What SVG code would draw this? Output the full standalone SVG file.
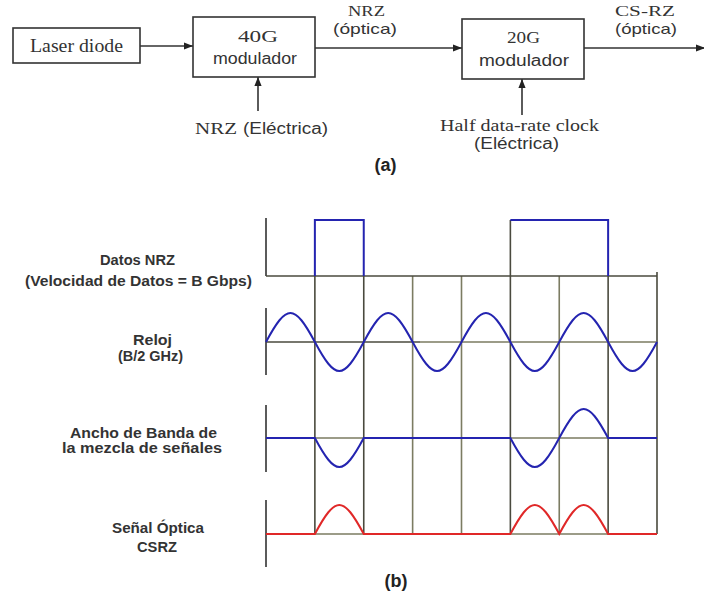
<svg xmlns="http://www.w3.org/2000/svg" width="704" height="594" viewBox="0 0 704 594">
<style>
.box{fill:#fff;stroke:#333;stroke-width:1.6}
.serif{font-family:"Liberation Serif","Times New Roman",serif;fill:#333}
.sans{font-family:"Liberation Sans",Arial,sans-serif;fill:#333}
.lbl{font-family:"Liberation Sans",Arial,sans-serif;font-weight:bold;fill:#333;font-size:14px;text-anchor:middle}
.tag{font-family:"Liberation Sans",Arial,sans-serif;font-weight:bold;fill:#222;font-size:18px;text-anchor:middle}
.conn{stroke:#333;stroke-width:1.6;fill:none}
.axis{stroke:#333;stroke-width:1.6;fill:none}
.gd{stroke:#4a4a3e;stroke-width:1.6;fill:none}
.gl{stroke:#7c7c62;stroke-width:1.6;fill:none}
.blue{stroke:#2424b0;stroke-width:2;fill:none}
.red{stroke:#e02828;stroke-width:2;fill:none}
</style>
<defs>
<marker id="ah" viewBox="0 0 10 10" refX="10" refY="5" markerWidth="9" markerHeight="9" markerUnits="userSpaceOnUse" orient="auto">
<path d="M0,1 L10,5 L0,9 z" fill="#222"/>
</marker>
</defs>
<rect width="704" height="594" fill="#fff"/>

<g id="connectors">
<line class="conn" x1="140" y1="46" x2="193" y2="46" marker-end="url(#ah)"/>
<line class="conn" x1="315" y1="48" x2="462" y2="48" marker-end="url(#ah)"/>
<line class="conn" x1="584" y1="48" x2="705" y2="48" marker-end="url(#ah)"/>
<line class="conn" x1="258" y1="111" x2="258" y2="77" marker-end="url(#ah)"/>
<line class="conn" x1="522" y1="115" x2="522" y2="79" marker-end="url(#ah)"/>
</g>

<g id="laser">
<rect class="box" x="13" y="28" width="127" height="35"/>
<text class="serif" x="76.5" y="52" font-size="18" text-anchor="middle" textLength="93" lengthAdjust="spacingAndGlyphs">Laser diode</text>
</g>
<g id="mod40">
<rect class="box" x="193" y="17" width="122" height="60"/>
<text class="serif" x="258" y="42" font-size="16" text-anchor="middle" textLength="40" lengthAdjust="spacingAndGlyphs">40G</text>
<text class="sans" x="255" y="64" font-size="16" text-anchor="middle" textLength="84" lengthAdjust="spacingAndGlyphs">modulador</text>
</g>
<g id="mod20">
<rect class="box" x="462" y="19" width="122" height="60"/>
<text class="serif" x="523.5" y="43" font-size="16" text-anchor="middle" textLength="33" lengthAdjust="spacingAndGlyphs">20G</text>
<text class="sans" x="524" y="66" font-size="16" text-anchor="middle" textLength="90" lengthAdjust="spacingAndGlyphs">modulador</text>
</g>
<g id="labels-a">
<text class="serif" x="366.5" y="16" font-size="14" text-anchor="middle" textLength="37" lengthAdjust="spacingAndGlyphs">NRZ</text>
<text class="sans" x="365" y="34" font-size="15" text-anchor="middle" textLength="64" lengthAdjust="spacingAndGlyphs">(óptica)</text>
<text class="serif" x="645" y="16" font-size="14" text-anchor="middle" textLength="60" lengthAdjust="spacingAndGlyphs">CS-RZ</text>
<text class="sans" x="646" y="34" font-size="15" text-anchor="middle" textLength="62" lengthAdjust="spacingAndGlyphs">(óptica)</text>
<text class="serif" x="216" y="134" font-size="16" text-anchor="middle" textLength="42" lengthAdjust="spacingAndGlyphs">NRZ</text>
<text class="sans" x="285.5" y="134" font-size="16" text-anchor="middle" textLength="85" lengthAdjust="spacingAndGlyphs">(Eléctrica)</text>
<text class="serif" x="519.5" y="131" font-size="16" text-anchor="middle" textLength="159" lengthAdjust="spacingAndGlyphs">Half data-rate clock</text>
<text class="sans" x="516.5" y="149" font-size="16" text-anchor="middle" textLength="85" lengthAdjust="spacingAndGlyphs">(Eléctrica)</text>
<text class="tag" x="385.5" y="171">(a)</text>
</g>

<g id="grid">
<path class="gd" d="M314.875,276 V534 M363.75,276 V534 M510.375,220 V534 M608.125,276 V534 M657,272 V534"/>
<path class="gl" d="M412.625,276 V534 M461.5,276 V534 M559.25,276 V534"/>
<path class="axis" d="M266,218 V276 M266,308 V375 M266,405 V472 M266,500 V567"/>
<path class="gd" d="M266,276 H657"/>
<path class="gd" d="M266,342 H420"/>
<path class="gl" d="M420,342 H657 M266,438 H657 M266,534 H657"/>
</g>

<g id="nrz">
<path class="blue" d="M314.875,276 V220 H363.75 V276 M510.375,220 H608.125 V276"/>
</g>
<g id="clock">
<path class="blue" d="M266,342 C286.74,303.33 294.13,303.33 314.875,342 S343,380.67 363.75,342 S391.88,303.33 412.625,342 S440.76,380.67 461.5,342 S489.63,303.33 510.375,342 S538.51,380.67 559.25,342 S587.38,303.33 608.125,342 S636.26,380.67 657,342"/>
</g>
<g id="mix">
<path class="blue" d="M266,438 L314.875,438 C335.62,476.67 343,476.67 363.75,438 L510.375,438 C531.12,476.67 538.51,476.67 559.25,438 C579.99,399.33 587.38,399.33 608.125,438 L657,438"/>
</g>
<g id="csrz">
<path class="red" d="M266,534 L314.875,534 C335.62,495.33 343,495.33 363.75,534 L510.375,534 C531.12,495.33 538.51,495.33 559.25,534 C579.99,495.33 587.38,495.33 608.125,534 L657,534"/>
</g>

<g id="labels-b">
<text class="lbl" x="137.5" y="265" textLength="75" lengthAdjust="spacingAndGlyphs">Datos NRZ</text>
<text class="lbl" x="138.5" y="286" textLength="227" lengthAdjust="spacingAndGlyphs">(Velocidad de Datos = B Gbps)</text>
<text class="lbl" x="152.5" y="345" textLength="39" lengthAdjust="spacingAndGlyphs">Reloj</text>
<text class="lbl" x="150.5" y="361" textLength="65" lengthAdjust="spacingAndGlyphs">(B/2 GHz)</text>
<text class="lbl" x="143.5" y="438" textLength="147" lengthAdjust="spacingAndGlyphs">Ancho de Banda de</text>
<text class="lbl" x="142" y="453" textLength="160" lengthAdjust="spacingAndGlyphs">la mezcla de señales</text>
<text class="lbl" x="158" y="533" textLength="92" lengthAdjust="spacingAndGlyphs">Señal Óptica</text>
<text class="lbl" x="157" y="552" textLength="40" lengthAdjust="spacingAndGlyphs">CSRZ</text>
<text class="tag" x="396" y="587">(b)</text>
</g>
</svg>
